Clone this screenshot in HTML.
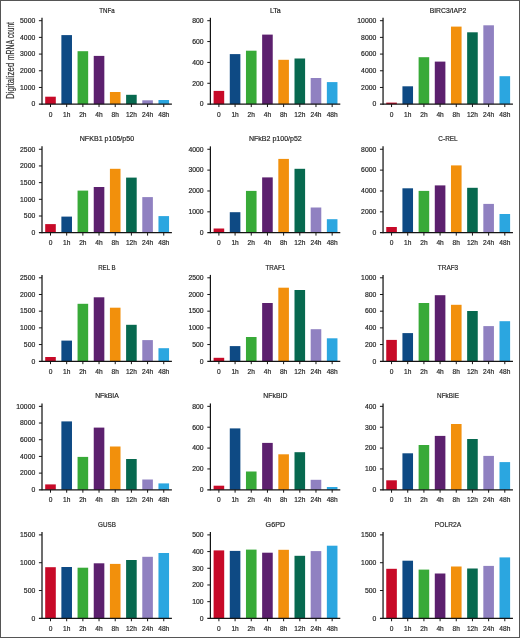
<!DOCTYPE html>
<html lang="en"><head><meta charset="utf-8"><title>NF-kB pathway mRNA counts</title>
<style>html,body{margin:0;padding:0;background:#fff}body{width:520px;height:638px;overflow:hidden}svg{display:block;will-change:transform}text{font-family:"Liberation Sans",Arial,sans-serif;fill:#262626;stroke:#262626;stroke-width:0.2px}.t{font-size:7.5px;text-anchor:middle}.y{font-size:7.2px;text-anchor:end}.x{font-size:7.2px;text-anchor:middle}.ax{stroke:#151515;stroke-width:1.25;fill:none}.tk{stroke:#151515;stroke-width:1;fill:none}</style></head><body>
<svg width="520" height="638" viewBox="0 0 520 638">
<rect x="0" y="0" width="520" height="638" fill="#fff"/>
<g>
<rect x="45.20" y="96.70" width="10.60" height="7.45" fill="#c70a28"/>
<rect x="61.38" y="35.10" width="10.60" height="69.05" fill="#0e4a84"/>
<rect x="77.56" y="51.20" width="10.60" height="52.95" fill="#38aa38"/>
<rect x="93.74" y="55.90" width="10.60" height="48.25" fill="#5c206e"/>
<rect x="109.92" y="92.00" width="10.60" height="12.15" fill="#f2900c"/>
<rect x="126.10" y="94.80" width="10.60" height="9.35" fill="#07694f"/>
<rect x="142.28" y="100.30" width="10.60" height="3.85" fill="#9081c1"/>
<rect x="158.46" y="100.00" width="10.60" height="4.15" fill="#2ba6e0"/>
<path class="ax" d="M42.00 17.80V104.65"/>
<path class="ax" d="M38.90 104.15H171.90"/>
<text class="y" transform="translate(35.25 106.45) scale(0.95 1)">0</text>
<text class="y" transform="translate(35.25 89.76) scale(0.95 1)">1000</text>
<text class="y" transform="translate(35.25 73.07) scale(0.95 1)">2000</text>
<text class="y" transform="translate(35.25 56.38) scale(0.95 1)">3000</text>
<text class="y" transform="translate(35.25 39.69) scale(0.95 1)">4000</text>
<text class="y" transform="translate(35.25 23.00) scale(0.95 1)">5000</text>
<path class="tk" d="M38.90 87.46H42.00M38.90 70.77H42.00M38.90 54.08H42.00M38.90 37.39H42.00M38.90 20.70H42.00"/>
<text class="x" transform="translate(50.50 116.75) scale(0.92 1)">0</text>
<text class="x" transform="translate(66.68 116.75) scale(0.92 1)">1h</text>
<text class="x" transform="translate(82.86 116.75) scale(0.92 1)">2h</text>
<text class="x" transform="translate(99.04 116.75) scale(0.92 1)">4h</text>
<text class="x" transform="translate(115.22 116.75) scale(0.92 1)">8h</text>
<text class="x" transform="translate(131.40 116.75) scale(0.92 1)">12h</text>
<text class="x" transform="translate(147.58 116.75) scale(0.92 1)">24h</text>
<text class="x" transform="translate(163.76 116.75) scale(0.92 1)">48h</text>
<path class="tk" d="M50.50 104.15V107.05M66.68 104.15V107.05M82.86 104.15V107.05M99.04 104.15V107.05M115.22 104.15V107.05M131.40 104.15V107.05M147.58 104.15V107.05M163.76 104.15V107.05"/>
<text class="t" x="106.95" y="12.70" textLength="15.4" lengthAdjust="spacingAndGlyphs">TNFa</text>
</g>
<g>
<rect x="213.60" y="90.90" width="10.60" height="13.25" fill="#c70a28"/>
<rect x="229.78" y="54.10" width="10.60" height="50.05" fill="#0e4a84"/>
<rect x="245.96" y="50.70" width="10.60" height="53.45" fill="#38aa38"/>
<rect x="262.14" y="34.60" width="10.60" height="69.55" fill="#5c206e"/>
<rect x="278.32" y="59.80" width="10.60" height="44.35" fill="#f2900c"/>
<rect x="294.50" y="58.50" width="10.60" height="45.65" fill="#07694f"/>
<rect x="310.68" y="78.00" width="10.60" height="26.15" fill="#9081c1"/>
<rect x="326.86" y="82.10" width="10.60" height="22.05" fill="#2ba6e0"/>
<path class="ax" d="M210.40 17.80V104.65"/>
<path class="ax" d="M207.30 104.15H340.30"/>
<text class="y" transform="translate(203.65 106.45) scale(0.95 1)">0</text>
<text class="y" transform="translate(203.65 85.59) scale(0.95 1)">200</text>
<text class="y" transform="translate(203.65 64.73) scale(0.95 1)">400</text>
<text class="y" transform="translate(203.65 43.86) scale(0.95 1)">600</text>
<text class="y" transform="translate(203.65 23.00) scale(0.95 1)">800</text>
<path class="tk" d="M207.30 83.29H210.40M207.30 62.43H210.40M207.30 41.56H210.40M207.30 20.70H210.40"/>
<text class="x" transform="translate(218.90 116.75) scale(0.92 1)">0</text>
<text class="x" transform="translate(235.08 116.75) scale(0.92 1)">1h</text>
<text class="x" transform="translate(251.26 116.75) scale(0.92 1)">2h</text>
<text class="x" transform="translate(267.44 116.75) scale(0.92 1)">4h</text>
<text class="x" transform="translate(283.62 116.75) scale(0.92 1)">8h</text>
<text class="x" transform="translate(299.80 116.75) scale(0.92 1)">12h</text>
<text class="x" transform="translate(315.98 116.75) scale(0.92 1)">24h</text>
<text class="x" transform="translate(332.16 116.75) scale(0.92 1)">48h</text>
<path class="tk" d="M218.90 104.15V107.05M235.08 104.15V107.05M251.26 104.15V107.05M267.44 104.15V107.05M283.62 104.15V107.05M299.80 104.15V107.05M315.98 104.15V107.05M332.16 104.15V107.05"/>
<text class="t" x="275.35" y="12.70" textLength="10.9" lengthAdjust="spacingAndGlyphs">LTa</text>
</g>
<g>
<rect x="386.25" y="102.60" width="10.60" height="1.55" fill="#c70a28"/>
<rect x="402.43" y="86.30" width="10.60" height="17.85" fill="#0e4a84"/>
<rect x="418.61" y="57.20" width="10.60" height="46.95" fill="#38aa38"/>
<rect x="434.79" y="61.60" width="10.60" height="42.55" fill="#5c206e"/>
<rect x="450.97" y="26.60" width="10.60" height="77.55" fill="#f2900c"/>
<rect x="467.15" y="32.30" width="10.60" height="71.85" fill="#07694f"/>
<rect x="483.33" y="25.30" width="10.60" height="78.85" fill="#9081c1"/>
<rect x="499.51" y="76.20" width="10.60" height="27.95" fill="#2ba6e0"/>
<path class="ax" d="M383.05 17.80V104.65"/>
<path class="ax" d="M379.95 104.15H512.95"/>
<text class="y" transform="translate(376.30 106.45) scale(0.95 1)">0</text>
<text class="y" transform="translate(376.30 89.76) scale(0.95 1)">2000</text>
<text class="y" transform="translate(376.30 73.07) scale(0.95 1)">4000</text>
<text class="y" transform="translate(376.30 56.38) scale(0.95 1)">6000</text>
<text class="y" transform="translate(376.30 39.69) scale(0.95 1)">8000</text>
<text class="y" transform="translate(376.30 23.00) scale(0.95 1)">10000</text>
<path class="tk" d="M379.95 87.46H383.05M379.95 70.77H383.05M379.95 54.08H383.05M379.95 37.39H383.05M379.95 20.70H383.05"/>
<text class="x" transform="translate(391.55 116.75) scale(0.92 1)">0</text>
<text class="x" transform="translate(407.73 116.75) scale(0.92 1)">1h</text>
<text class="x" transform="translate(423.91 116.75) scale(0.92 1)">2h</text>
<text class="x" transform="translate(440.09 116.75) scale(0.92 1)">4h</text>
<text class="x" transform="translate(456.27 116.75) scale(0.92 1)">8h</text>
<text class="x" transform="translate(472.45 116.75) scale(0.92 1)">12h</text>
<text class="x" transform="translate(488.63 116.75) scale(0.92 1)">24h</text>
<text class="x" transform="translate(504.81 116.75) scale(0.92 1)">48h</text>
<path class="tk" d="M391.55 104.15V107.05M407.73 104.15V107.05M423.91 104.15V107.05M440.09 104.15V107.05M456.27 104.15V107.05M472.45 104.15V107.05M488.63 104.15V107.05M504.81 104.15V107.05"/>
<text class="t" x="448.00" y="12.70" textLength="36.7" lengthAdjust="spacingAndGlyphs">BIRC3/IAP2</text>
</g>
<g>
<rect x="45.20" y="224.10" width="10.60" height="8.60" fill="#c70a28"/>
<rect x="61.38" y="216.60" width="10.60" height="16.10" fill="#0e4a84"/>
<rect x="77.56" y="190.60" width="10.60" height="42.10" fill="#38aa38"/>
<rect x="93.74" y="187.00" width="10.60" height="45.70" fill="#5c206e"/>
<rect x="109.92" y="168.80" width="10.60" height="63.90" fill="#f2900c"/>
<rect x="126.10" y="177.60" width="10.60" height="55.10" fill="#07694f"/>
<rect x="142.28" y="197.10" width="10.60" height="35.60" fill="#9081c1"/>
<rect x="158.46" y="216.10" width="10.60" height="16.60" fill="#2ba6e0"/>
<path class="ax" d="M42.00 146.35V233.20"/>
<path class="ax" d="M38.90 232.70H171.90"/>
<text class="y" transform="translate(35.25 235.00) scale(0.95 1)">0</text>
<text class="y" transform="translate(35.25 218.31) scale(0.95 1)">500</text>
<text class="y" transform="translate(35.25 201.62) scale(0.95 1)">1000</text>
<text class="y" transform="translate(35.25 184.93) scale(0.95 1)">1500</text>
<text class="y" transform="translate(35.25 168.24) scale(0.95 1)">2000</text>
<text class="y" transform="translate(35.25 151.55) scale(0.95 1)">2500</text>
<path class="tk" d="M38.90 216.01H42.00M38.90 199.32H42.00M38.90 182.63H42.00M38.90 165.94H42.00M38.90 149.25H42.00"/>
<text class="x" transform="translate(50.50 245.30) scale(0.92 1)">0</text>
<text class="x" transform="translate(66.68 245.30) scale(0.92 1)">1h</text>
<text class="x" transform="translate(82.86 245.30) scale(0.92 1)">2h</text>
<text class="x" transform="translate(99.04 245.30) scale(0.92 1)">4h</text>
<text class="x" transform="translate(115.22 245.30) scale(0.92 1)">8h</text>
<text class="x" transform="translate(131.40 245.30) scale(0.92 1)">12h</text>
<text class="x" transform="translate(147.58 245.30) scale(0.92 1)">24h</text>
<text class="x" transform="translate(163.76 245.30) scale(0.92 1)">48h</text>
<path class="tk" d="M50.50 232.70V235.60M66.68 232.70V235.60M82.86 232.70V235.60M99.04 232.70V235.60M115.22 232.70V235.60M131.40 232.70V235.60M147.58 232.70V235.60M163.76 232.70V235.60"/>
<text class="t" x="106.95" y="141.25" textLength="54.4" lengthAdjust="spacingAndGlyphs">NFKB1 p105/p50</text>
</g>
<g>
<rect x="213.60" y="228.50" width="10.60" height="4.20" fill="#c70a28"/>
<rect x="229.78" y="212.20" width="10.60" height="20.50" fill="#0e4a84"/>
<rect x="245.96" y="190.90" width="10.60" height="41.80" fill="#38aa38"/>
<rect x="262.14" y="177.40" width="10.60" height="55.30" fill="#5c206e"/>
<rect x="278.32" y="158.90" width="10.60" height="73.80" fill="#f2900c"/>
<rect x="294.50" y="168.80" width="10.60" height="63.90" fill="#07694f"/>
<rect x="310.68" y="207.50" width="10.60" height="25.20" fill="#9081c1"/>
<rect x="326.86" y="219.20" width="10.60" height="13.50" fill="#2ba6e0"/>
<path class="ax" d="M210.40 146.35V233.20"/>
<path class="ax" d="M207.30 232.70H340.30"/>
<text class="y" transform="translate(203.65 235.00) scale(0.95 1)">0</text>
<text class="y" transform="translate(203.65 214.14) scale(0.95 1)">1000</text>
<text class="y" transform="translate(203.65 193.28) scale(0.95 1)">2000</text>
<text class="y" transform="translate(203.65 172.41) scale(0.95 1)">3000</text>
<text class="y" transform="translate(203.65 151.55) scale(0.95 1)">4000</text>
<path class="tk" d="M207.30 211.84H210.40M207.30 190.98H210.40M207.30 170.11H210.40M207.30 149.25H210.40"/>
<text class="x" transform="translate(218.90 245.30) scale(0.92 1)">0</text>
<text class="x" transform="translate(235.08 245.30) scale(0.92 1)">1h</text>
<text class="x" transform="translate(251.26 245.30) scale(0.92 1)">2h</text>
<text class="x" transform="translate(267.44 245.30) scale(0.92 1)">4h</text>
<text class="x" transform="translate(283.62 245.30) scale(0.92 1)">8h</text>
<text class="x" transform="translate(299.80 245.30) scale(0.92 1)">12h</text>
<text class="x" transform="translate(315.98 245.30) scale(0.92 1)">24h</text>
<text class="x" transform="translate(332.16 245.30) scale(0.92 1)">48h</text>
<path class="tk" d="M218.90 232.70V235.60M235.08 232.70V235.60M251.26 232.70V235.60M267.44 232.70V235.60M283.62 232.70V235.60M299.80 232.70V235.60M315.98 232.70V235.60M332.16 232.70V235.60"/>
<text class="t" x="275.35" y="141.25" textLength="52.8" lengthAdjust="spacingAndGlyphs">NFkB2 p100/p52</text>
</g>
<g>
<rect x="386.25" y="227.00" width="10.60" height="5.70" fill="#c70a28"/>
<rect x="402.43" y="188.30" width="10.60" height="44.40" fill="#0e4a84"/>
<rect x="418.61" y="190.90" width="10.60" height="41.80" fill="#38aa38"/>
<rect x="434.79" y="185.40" width="10.60" height="47.30" fill="#5c206e"/>
<rect x="450.97" y="165.40" width="10.60" height="67.30" fill="#f2900c"/>
<rect x="467.15" y="187.80" width="10.60" height="44.90" fill="#07694f"/>
<rect x="483.33" y="203.90" width="10.60" height="28.80" fill="#9081c1"/>
<rect x="499.51" y="214.00" width="10.60" height="18.70" fill="#2ba6e0"/>
<path class="ax" d="M383.05 146.35V233.20"/>
<path class="ax" d="M379.95 232.70H512.95"/>
<text class="y" transform="translate(376.30 235.00) scale(0.95 1)">0</text>
<text class="y" transform="translate(376.30 214.14) scale(0.95 1)">2000</text>
<text class="y" transform="translate(376.30 193.28) scale(0.95 1)">4000</text>
<text class="y" transform="translate(376.30 172.41) scale(0.95 1)">6000</text>
<text class="y" transform="translate(376.30 151.55) scale(0.95 1)">8000</text>
<path class="tk" d="M379.95 211.84H383.05M379.95 190.98H383.05M379.95 170.11H383.05M379.95 149.25H383.05"/>
<text class="x" transform="translate(391.55 245.30) scale(0.92 1)">0</text>
<text class="x" transform="translate(407.73 245.30) scale(0.92 1)">1h</text>
<text class="x" transform="translate(423.91 245.30) scale(0.92 1)">2h</text>
<text class="x" transform="translate(440.09 245.30) scale(0.92 1)">4h</text>
<text class="x" transform="translate(456.27 245.30) scale(0.92 1)">8h</text>
<text class="x" transform="translate(472.45 245.30) scale(0.92 1)">12h</text>
<text class="x" transform="translate(488.63 245.30) scale(0.92 1)">24h</text>
<text class="x" transform="translate(504.81 245.30) scale(0.92 1)">48h</text>
<path class="tk" d="M391.55 232.70V235.60M407.73 232.70V235.60M423.91 232.70V235.60M440.09 232.70V235.60M456.27 232.70V235.60M472.45 232.70V235.60M488.63 232.70V235.60M504.81 232.70V235.60"/>
<text class="t" x="448.00" y="141.25" textLength="19.3" lengthAdjust="spacingAndGlyphs">C-REL</text>
</g>
<g>
<rect x="45.20" y="357.00" width="10.60" height="4.25" fill="#c70a28"/>
<rect x="61.38" y="340.60" width="10.60" height="20.65" fill="#0e4a84"/>
<rect x="77.56" y="303.80" width="10.60" height="57.45" fill="#38aa38"/>
<rect x="93.74" y="297.30" width="10.60" height="63.95" fill="#5c206e"/>
<rect x="109.92" y="307.70" width="10.60" height="53.55" fill="#f2900c"/>
<rect x="126.10" y="324.80" width="10.60" height="36.45" fill="#07694f"/>
<rect x="142.28" y="340.10" width="10.60" height="21.15" fill="#9081c1"/>
<rect x="158.46" y="348.20" width="10.60" height="13.05" fill="#2ba6e0"/>
<path class="ax" d="M42.00 274.90V361.75"/>
<path class="ax" d="M38.90 361.25H171.90"/>
<text class="y" transform="translate(35.25 363.55) scale(0.95 1)">0</text>
<text class="y" transform="translate(35.25 346.86) scale(0.95 1)">500</text>
<text class="y" transform="translate(35.25 330.17) scale(0.95 1)">1000</text>
<text class="y" transform="translate(35.25 313.48) scale(0.95 1)">1500</text>
<text class="y" transform="translate(35.25 296.79) scale(0.95 1)">2000</text>
<text class="y" transform="translate(35.25 280.10) scale(0.95 1)">2500</text>
<path class="tk" d="M38.90 344.56H42.00M38.90 327.87H42.00M38.90 311.18H42.00M38.90 294.49H42.00M38.90 277.80H42.00"/>
<text class="x" transform="translate(50.50 373.85) scale(0.92 1)">0</text>
<text class="x" transform="translate(66.68 373.85) scale(0.92 1)">1h</text>
<text class="x" transform="translate(82.86 373.85) scale(0.92 1)">2h</text>
<text class="x" transform="translate(99.04 373.85) scale(0.92 1)">4h</text>
<text class="x" transform="translate(115.22 373.85) scale(0.92 1)">8h</text>
<text class="x" transform="translate(131.40 373.85) scale(0.92 1)">12h</text>
<text class="x" transform="translate(147.58 373.85) scale(0.92 1)">24h</text>
<text class="x" transform="translate(163.76 373.85) scale(0.92 1)">48h</text>
<path class="tk" d="M50.50 361.25V364.15M66.68 361.25V364.15M82.86 361.25V364.15M99.04 361.25V364.15M115.22 361.25V364.15M131.40 361.25V364.15M147.58 361.25V364.15M163.76 361.25V364.15"/>
<text class="t" x="106.95" y="269.80" textLength="17.5" lengthAdjust="spacingAndGlyphs">REL B</text>
</g>
<g>
<rect x="213.60" y="357.80" width="10.60" height="3.45" fill="#c70a28"/>
<rect x="229.78" y="346.10" width="10.60" height="15.15" fill="#0e4a84"/>
<rect x="245.96" y="337.00" width="10.60" height="24.25" fill="#38aa38"/>
<rect x="262.14" y="303.00" width="10.60" height="58.25" fill="#5c206e"/>
<rect x="278.32" y="287.70" width="10.60" height="73.55" fill="#f2900c"/>
<rect x="294.50" y="290.00" width="10.60" height="71.25" fill="#07694f"/>
<rect x="310.68" y="329.20" width="10.60" height="32.05" fill="#9081c1"/>
<rect x="326.86" y="338.30" width="10.60" height="22.95" fill="#2ba6e0"/>
<path class="ax" d="M210.40 274.90V361.75"/>
<path class="ax" d="M207.30 361.25H340.30"/>
<text class="y" transform="translate(203.65 363.55) scale(0.95 1)">0</text>
<text class="y" transform="translate(203.65 346.86) scale(0.95 1)">500</text>
<text class="y" transform="translate(203.65 330.17) scale(0.95 1)">1000</text>
<text class="y" transform="translate(203.65 313.48) scale(0.95 1)">1500</text>
<text class="y" transform="translate(203.65 296.79) scale(0.95 1)">2000</text>
<text class="y" transform="translate(203.65 280.10) scale(0.95 1)">2500</text>
<path class="tk" d="M207.30 344.56H210.40M207.30 327.87H210.40M207.30 311.18H210.40M207.30 294.49H210.40M207.30 277.80H210.40"/>
<text class="x" transform="translate(218.90 373.85) scale(0.92 1)">0</text>
<text class="x" transform="translate(235.08 373.85) scale(0.92 1)">1h</text>
<text class="x" transform="translate(251.26 373.85) scale(0.92 1)">2h</text>
<text class="x" transform="translate(267.44 373.85) scale(0.92 1)">4h</text>
<text class="x" transform="translate(283.62 373.85) scale(0.92 1)">8h</text>
<text class="x" transform="translate(299.80 373.85) scale(0.92 1)">12h</text>
<text class="x" transform="translate(315.98 373.85) scale(0.92 1)">24h</text>
<text class="x" transform="translate(332.16 373.85) scale(0.92 1)">48h</text>
<path class="tk" d="M218.90 361.25V364.15M235.08 361.25V364.15M251.26 361.25V364.15M267.44 361.25V364.15M283.62 361.25V364.15M299.80 361.25V364.15M315.98 361.25V364.15M332.16 361.25V364.15"/>
<text class="t" x="275.35" y="269.80" textLength="19.8" lengthAdjust="spacingAndGlyphs">TRAF1</text>
</g>
<g>
<rect x="386.25" y="339.90" width="10.60" height="21.35" fill="#c70a28"/>
<rect x="402.43" y="333.10" width="10.60" height="28.15" fill="#0e4a84"/>
<rect x="418.61" y="303.00" width="10.60" height="58.25" fill="#38aa38"/>
<rect x="434.79" y="295.20" width="10.60" height="66.05" fill="#5c206e"/>
<rect x="450.97" y="304.80" width="10.60" height="56.45" fill="#f2900c"/>
<rect x="467.15" y="311.00" width="10.60" height="50.25" fill="#07694f"/>
<rect x="483.33" y="326.10" width="10.60" height="35.15" fill="#9081c1"/>
<rect x="499.51" y="321.20" width="10.60" height="40.05" fill="#2ba6e0"/>
<path class="ax" d="M383.05 274.90V361.75"/>
<path class="ax" d="M379.95 361.25H512.95"/>
<text class="y" transform="translate(376.30 363.55) scale(0.95 1)">0</text>
<text class="y" transform="translate(376.30 346.86) scale(0.95 1)">200</text>
<text class="y" transform="translate(376.30 330.17) scale(0.95 1)">400</text>
<text class="y" transform="translate(376.30 313.48) scale(0.95 1)">600</text>
<text class="y" transform="translate(376.30 296.79) scale(0.95 1)">800</text>
<text class="y" transform="translate(376.30 280.10) scale(0.95 1)">1000</text>
<path class="tk" d="M379.95 344.56H383.05M379.95 327.87H383.05M379.95 311.18H383.05M379.95 294.49H383.05M379.95 277.80H383.05"/>
<text class="x" transform="translate(391.55 373.85) scale(0.92 1)">0</text>
<text class="x" transform="translate(407.73 373.85) scale(0.92 1)">1h</text>
<text class="x" transform="translate(423.91 373.85) scale(0.92 1)">2h</text>
<text class="x" transform="translate(440.09 373.85) scale(0.92 1)">4h</text>
<text class="x" transform="translate(456.27 373.85) scale(0.92 1)">8h</text>
<text class="x" transform="translate(472.45 373.85) scale(0.92 1)">12h</text>
<text class="x" transform="translate(488.63 373.85) scale(0.92 1)">24h</text>
<text class="x" transform="translate(504.81 373.85) scale(0.92 1)">48h</text>
<path class="tk" d="M391.55 361.25V364.15M407.73 361.25V364.15M423.91 361.25V364.15M440.09 361.25V364.15M456.27 361.25V364.15M472.45 361.25V364.15M488.63 361.25V364.15M504.81 361.25V364.15"/>
<text class="t" x="448.00" y="269.80" textLength="20.3" lengthAdjust="spacingAndGlyphs">TRAF3</text>
</g>
<g>
<rect x="45.20" y="484.40" width="10.60" height="5.40" fill="#c70a28"/>
<rect x="61.38" y="421.40" width="10.60" height="68.40" fill="#0e4a84"/>
<rect x="77.56" y="456.90" width="10.60" height="32.90" fill="#38aa38"/>
<rect x="93.74" y="427.60" width="10.60" height="62.20" fill="#5c206e"/>
<rect x="109.92" y="446.50" width="10.60" height="43.30" fill="#f2900c"/>
<rect x="126.10" y="459.00" width="10.60" height="30.80" fill="#07694f"/>
<rect x="142.28" y="479.50" width="10.60" height="10.30" fill="#9081c1"/>
<rect x="158.46" y="483.40" width="10.60" height="6.40" fill="#2ba6e0"/>
<path class="ax" d="M42.00 403.45V490.30"/>
<path class="ax" d="M38.90 489.80H171.90"/>
<text class="y" transform="translate(35.25 492.10) scale(0.95 1)">0</text>
<text class="y" transform="translate(35.25 475.41) scale(0.95 1)">2000</text>
<text class="y" transform="translate(35.25 458.72) scale(0.95 1)">4000</text>
<text class="y" transform="translate(35.25 442.03) scale(0.95 1)">6000</text>
<text class="y" transform="translate(35.25 425.34) scale(0.95 1)">8000</text>
<text class="y" transform="translate(35.25 408.65) scale(0.95 1)">10000</text>
<path class="tk" d="M38.90 473.11H42.00M38.90 456.42H42.00M38.90 439.73H42.00M38.90 423.04H42.00M38.90 406.35H42.00"/>
<text class="x" transform="translate(50.50 502.40) scale(0.92 1)">0</text>
<text class="x" transform="translate(66.68 502.40) scale(0.92 1)">1h</text>
<text class="x" transform="translate(82.86 502.40) scale(0.92 1)">2h</text>
<text class="x" transform="translate(99.04 502.40) scale(0.92 1)">4h</text>
<text class="x" transform="translate(115.22 502.40) scale(0.92 1)">8h</text>
<text class="x" transform="translate(131.40 502.40) scale(0.92 1)">12h</text>
<text class="x" transform="translate(147.58 502.40) scale(0.92 1)">24h</text>
<text class="x" transform="translate(163.76 502.40) scale(0.92 1)">48h</text>
<path class="tk" d="M50.50 489.80V492.70M66.68 489.80V492.70M82.86 489.80V492.70M99.04 489.80V492.70M115.22 489.80V492.70M131.40 489.80V492.70M147.58 489.80V492.70M163.76 489.80V492.70"/>
<text class="t" x="106.95" y="398.35" textLength="23.6" lengthAdjust="spacingAndGlyphs">NFkBIA</text>
</g>
<g>
<rect x="213.60" y="485.70" width="10.60" height="4.10" fill="#c70a28"/>
<rect x="229.78" y="428.40" width="10.60" height="61.40" fill="#0e4a84"/>
<rect x="245.96" y="471.50" width="10.60" height="18.30" fill="#38aa38"/>
<rect x="262.14" y="442.90" width="10.60" height="46.90" fill="#5c206e"/>
<rect x="278.32" y="454.30" width="10.60" height="35.50" fill="#f2900c"/>
<rect x="294.50" y="452.20" width="10.60" height="37.60" fill="#07694f"/>
<rect x="310.68" y="479.80" width="10.60" height="10.00" fill="#9081c1"/>
<rect x="326.86" y="487.00" width="10.60" height="2.80" fill="#2ba6e0"/>
<path class="ax" d="M210.40 403.45V490.30"/>
<path class="ax" d="M207.30 489.80H340.30"/>
<text class="y" transform="translate(203.65 492.10) scale(0.95 1)">0</text>
<text class="y" transform="translate(203.65 471.24) scale(0.95 1)">200</text>
<text class="y" transform="translate(203.65 450.38) scale(0.95 1)">400</text>
<text class="y" transform="translate(203.65 429.51) scale(0.95 1)">600</text>
<text class="y" transform="translate(203.65 408.65) scale(0.95 1)">800</text>
<path class="tk" d="M207.30 468.94H210.40M207.30 448.08H210.40M207.30 427.21H210.40M207.30 406.35H210.40"/>
<text class="x" transform="translate(218.90 502.40) scale(0.92 1)">0</text>
<text class="x" transform="translate(235.08 502.40) scale(0.92 1)">1h</text>
<text class="x" transform="translate(251.26 502.40) scale(0.92 1)">2h</text>
<text class="x" transform="translate(267.44 502.40) scale(0.92 1)">4h</text>
<text class="x" transform="translate(283.62 502.40) scale(0.92 1)">8h</text>
<text class="x" transform="translate(299.80 502.40) scale(0.92 1)">12h</text>
<text class="x" transform="translate(315.98 502.40) scale(0.92 1)">24h</text>
<text class="x" transform="translate(332.16 502.40) scale(0.92 1)">48h</text>
<path class="tk" d="M218.90 489.80V492.70M235.08 489.80V492.70M251.26 489.80V492.70M267.44 489.80V492.70M283.62 489.80V492.70M299.80 489.80V492.70M315.98 489.80V492.70M332.16 489.80V492.70"/>
<text class="t" x="275.35" y="398.35" textLength="24.0" lengthAdjust="spacingAndGlyphs">NFkBID</text>
</g>
<g>
<rect x="386.25" y="480.30" width="10.60" height="9.50" fill="#c70a28"/>
<rect x="402.43" y="453.30" width="10.60" height="36.50" fill="#0e4a84"/>
<rect x="418.61" y="445.00" width="10.60" height="44.80" fill="#38aa38"/>
<rect x="434.79" y="435.90" width="10.60" height="53.90" fill="#5c206e"/>
<rect x="450.97" y="424.00" width="10.60" height="65.80" fill="#f2900c"/>
<rect x="467.15" y="439.00" width="10.60" height="50.80" fill="#07694f"/>
<rect x="483.33" y="455.90" width="10.60" height="33.90" fill="#9081c1"/>
<rect x="499.51" y="462.10" width="10.60" height="27.70" fill="#2ba6e0"/>
<path class="ax" d="M383.05 403.45V490.30"/>
<path class="ax" d="M379.95 489.80H512.95"/>
<text class="y" transform="translate(376.30 492.10) scale(0.95 1)">0</text>
<text class="y" transform="translate(376.30 471.24) scale(0.95 1)">100</text>
<text class="y" transform="translate(376.30 450.38) scale(0.95 1)">200</text>
<text class="y" transform="translate(376.30 429.51) scale(0.95 1)">300</text>
<text class="y" transform="translate(376.30 408.65) scale(0.95 1)">400</text>
<path class="tk" d="M379.95 468.94H383.05M379.95 448.08H383.05M379.95 427.21H383.05M379.95 406.35H383.05"/>
<text class="x" transform="translate(391.55 502.40) scale(0.92 1)">0</text>
<text class="x" transform="translate(407.73 502.40) scale(0.92 1)">1h</text>
<text class="x" transform="translate(423.91 502.40) scale(0.92 1)">2h</text>
<text class="x" transform="translate(440.09 502.40) scale(0.92 1)">4h</text>
<text class="x" transform="translate(456.27 502.40) scale(0.92 1)">8h</text>
<text class="x" transform="translate(472.45 502.40) scale(0.92 1)">12h</text>
<text class="x" transform="translate(488.63 502.40) scale(0.92 1)">24h</text>
<text class="x" transform="translate(504.81 502.40) scale(0.92 1)">48h</text>
<path class="tk" d="M391.55 489.80V492.70M407.73 489.80V492.70M423.91 489.80V492.70M440.09 489.80V492.70M456.27 489.80V492.70M472.45 489.80V492.70M488.63 489.80V492.70M504.81 489.80V492.70"/>
<text class="t" x="448.00" y="398.35" textLength="21.8" lengthAdjust="spacingAndGlyphs">NFkBIE</text>
</g>
<g>
<rect x="45.20" y="567.20" width="10.60" height="51.15" fill="#c70a28"/>
<rect x="61.38" y="567.00" width="10.60" height="51.35" fill="#0e4a84"/>
<rect x="77.56" y="567.70" width="10.60" height="50.65" fill="#38aa38"/>
<rect x="93.74" y="563.30" width="10.60" height="55.05" fill="#5c206e"/>
<rect x="109.92" y="563.90" width="10.60" height="54.45" fill="#f2900c"/>
<rect x="126.10" y="560.00" width="10.60" height="58.35" fill="#07694f"/>
<rect x="142.28" y="556.80" width="10.60" height="61.55" fill="#9081c1"/>
<rect x="158.46" y="553.00" width="10.60" height="65.35" fill="#2ba6e0"/>
<path class="ax" d="M42.00 532.00V618.85"/>
<path class="ax" d="M38.90 618.35H171.90"/>
<text class="y" transform="translate(35.25 620.65) scale(0.95 1)">0</text>
<text class="y" transform="translate(35.25 592.83) scale(0.95 1)">500</text>
<text class="y" transform="translate(35.25 565.02) scale(0.95 1)">1000</text>
<text class="y" transform="translate(35.25 537.20) scale(0.95 1)">1500</text>
<path class="tk" d="M38.90 590.53H42.00M38.90 562.72H42.00M38.90 534.90H42.00"/>
<text class="x" transform="translate(50.50 630.95) scale(0.92 1)">0</text>
<text class="x" transform="translate(66.68 630.95) scale(0.92 1)">1h</text>
<text class="x" transform="translate(82.86 630.95) scale(0.92 1)">2h</text>
<text class="x" transform="translate(99.04 630.95) scale(0.92 1)">4h</text>
<text class="x" transform="translate(115.22 630.95) scale(0.92 1)">8h</text>
<text class="x" transform="translate(131.40 630.95) scale(0.92 1)">12h</text>
<text class="x" transform="translate(147.58 630.95) scale(0.92 1)">24h</text>
<text class="x" transform="translate(163.76 630.95) scale(0.92 1)">48h</text>
<path class="tk" d="M50.50 618.35V621.25M66.68 618.35V621.25M82.86 618.35V621.25M99.04 618.35V621.25M115.22 618.35V621.25M131.40 618.35V621.25M147.58 618.35V621.25M163.76 618.35V621.25"/>
<text class="t" x="106.95" y="526.90" textLength="17.8" lengthAdjust="spacingAndGlyphs">GUSB</text>
</g>
<g>
<rect x="213.60" y="550.40" width="10.60" height="67.95" fill="#c70a28"/>
<rect x="229.78" y="550.90" width="10.60" height="67.45" fill="#0e4a84"/>
<rect x="245.96" y="549.60" width="10.60" height="68.75" fill="#38aa38"/>
<rect x="262.14" y="552.70" width="10.60" height="65.65" fill="#5c206e"/>
<rect x="278.32" y="549.80" width="10.60" height="68.55" fill="#f2900c"/>
<rect x="294.50" y="555.80" width="10.60" height="62.55" fill="#07694f"/>
<rect x="310.68" y="551.10" width="10.60" height="67.25" fill="#9081c1"/>
<rect x="326.86" y="545.70" width="10.60" height="72.65" fill="#2ba6e0"/>
<path class="ax" d="M210.40 532.00V618.85"/>
<path class="ax" d="M207.30 618.35H340.30"/>
<text class="y" transform="translate(203.65 620.65) scale(0.95 1)">0</text>
<text class="y" transform="translate(203.65 603.96) scale(0.95 1)">100</text>
<text class="y" transform="translate(203.65 587.27) scale(0.95 1)">200</text>
<text class="y" transform="translate(203.65 570.58) scale(0.95 1)">300</text>
<text class="y" transform="translate(203.65 553.89) scale(0.95 1)">400</text>
<text class="y" transform="translate(203.65 537.20) scale(0.95 1)">500</text>
<path class="tk" d="M207.30 601.66H210.40M207.30 584.97H210.40M207.30 568.28H210.40M207.30 551.59H210.40M207.30 534.90H210.40"/>
<text class="x" transform="translate(218.90 630.95) scale(0.92 1)">0</text>
<text class="x" transform="translate(235.08 630.95) scale(0.92 1)">1h</text>
<text class="x" transform="translate(251.26 630.95) scale(0.92 1)">2h</text>
<text class="x" transform="translate(267.44 630.95) scale(0.92 1)">4h</text>
<text class="x" transform="translate(283.62 630.95) scale(0.92 1)">8h</text>
<text class="x" transform="translate(299.80 630.95) scale(0.92 1)">12h</text>
<text class="x" transform="translate(315.98 630.95) scale(0.92 1)">24h</text>
<text class="x" transform="translate(332.16 630.95) scale(0.92 1)">48h</text>
<path class="tk" d="M218.90 618.35V621.25M235.08 618.35V621.25M251.26 618.35V621.25M267.44 618.35V621.25M283.62 618.35V621.25M299.80 618.35V621.25M315.98 618.35V621.25M332.16 618.35V621.25"/>
<text class="t" x="275.35" y="526.90" textLength="19.5" lengthAdjust="spacingAndGlyphs">G6PD</text>
</g>
<g>
<rect x="386.25" y="568.80" width="10.60" height="49.55" fill="#c70a28"/>
<rect x="402.43" y="560.70" width="10.60" height="57.65" fill="#0e4a84"/>
<rect x="418.61" y="569.60" width="10.60" height="48.75" fill="#38aa38"/>
<rect x="434.79" y="573.50" width="10.60" height="44.85" fill="#5c206e"/>
<rect x="450.97" y="566.50" width="10.60" height="51.85" fill="#f2900c"/>
<rect x="467.15" y="568.50" width="10.60" height="49.85" fill="#07694f"/>
<rect x="483.33" y="565.90" width="10.60" height="52.45" fill="#9081c1"/>
<rect x="499.51" y="557.40" width="10.60" height="60.95" fill="#2ba6e0"/>
<path class="ax" d="M383.05 532.00V618.85"/>
<path class="ax" d="M379.95 618.35H512.95"/>
<text class="y" transform="translate(376.30 620.65) scale(0.95 1)">0</text>
<text class="y" transform="translate(376.30 592.83) scale(0.95 1)">500</text>
<text class="y" transform="translate(376.30 565.02) scale(0.95 1)">1000</text>
<text class="y" transform="translate(376.30 537.20) scale(0.95 1)">1500</text>
<path class="tk" d="M379.95 590.53H383.05M379.95 562.72H383.05M379.95 534.90H383.05"/>
<text class="x" transform="translate(391.55 630.95) scale(0.92 1)">0</text>
<text class="x" transform="translate(407.73 630.95) scale(0.92 1)">1h</text>
<text class="x" transform="translate(423.91 630.95) scale(0.92 1)">2h</text>
<text class="x" transform="translate(440.09 630.95) scale(0.92 1)">4h</text>
<text class="x" transform="translate(456.27 630.95) scale(0.92 1)">8h</text>
<text class="x" transform="translate(472.45 630.95) scale(0.92 1)">12h</text>
<text class="x" transform="translate(488.63 630.95) scale(0.92 1)">24h</text>
<text class="x" transform="translate(504.81 630.95) scale(0.92 1)">48h</text>
<path class="tk" d="M391.55 618.35V621.25M407.73 618.35V621.25M423.91 618.35V621.25M440.09 618.35V621.25M456.27 618.35V621.25M472.45 618.35V621.25M488.63 618.35V621.25M504.81 618.35V621.25"/>
<text class="t" x="448.00" y="526.90" textLength="26.3" lengthAdjust="spacingAndGlyphs">POLR2A</text>
</g>
<text transform="translate(13.7 0) rotate(-90)" style="font-size:10.2px;fill:#3a3a3a;stroke:#3a3a3a"><tspan x="-99.0" textLength="36.3" lengthAdjust="spacingAndGlyphs">Digitalized</tspan> <tspan x="-60.3" textLength="20.1" lengthAdjust="spacingAndGlyphs">mRNA</tspan> <tspan x="-38.0" textLength="15.9" lengthAdjust="spacingAndGlyphs">count</tspan></text>
<rect x="0.5" y="0.5" width="519" height="637" fill="none" stroke="#555" stroke-width="1"/>
</svg></body></html>
